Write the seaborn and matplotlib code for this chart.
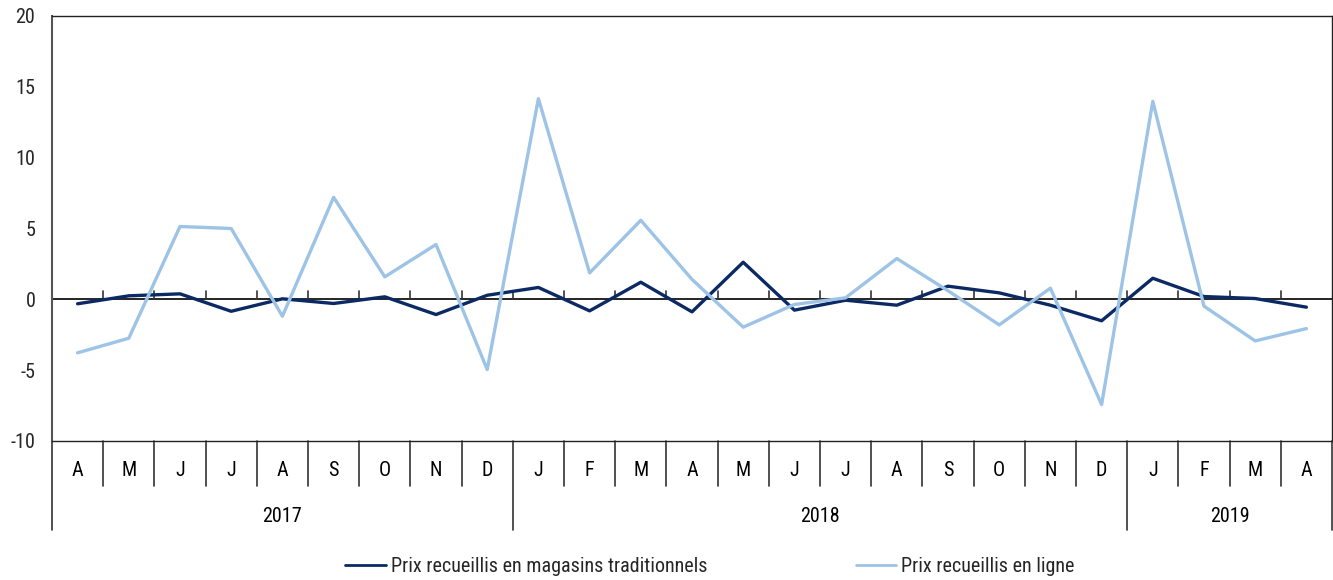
import matplotlib
matplotlib.use("Agg")
import matplotlib.pyplot as plt
import matplotlib.transforms as mtransforms
from matplotlib.lines import Line2D
from matplotlib import font_manager
import seaborn as sns
import pandas as pd
import numpy as np

months = ["A", "M", "J", "J", "A", "S", "O", "N", "D",
          "J", "F", "M", "A", "M", "J", "J", "A", "S", "O", "N", "D",
          "J", "F", "M", "A"]
years = ["2017", "2018", "2019"]
year_counts = [9, 12, 4]

magasins = [-0.32, 0.24, 0.38, -0.85, 0.03, -0.30, 0.17, -1.08, 0.28,
            0.83, -0.82, 1.20, -0.89, 2.61, -0.77, -0.07, -0.42, 0.92, 0.45, -0.42, -1.52,
            1.48, 0.19, 0.05, -0.56]
en_ligne = [-3.78, -2.75, 5.13, 4.99, -1.20, 7.19, 1.58, 3.86, -4.96,
            14.15, 1.86, 5.57, 1.40, -1.97, -0.37, 0.10, 2.87, 0.60, -1.81, 0.78, -7.43,
            13.96, -0.49, -2.94, -2.07]

series_names = ["Prix recueillis en magasins traditionnels", "Prix recueillis en ligne"]
colors = ["#0B2A63", "#9DC3E6"]

n = len(months)
df = pd.DataFrame({
    "idx": list(range(n)) * 2,
    "value": magasins + en_ligne,
    "serie": [series_names[0]] * n + [series_names[1]] * n,
})

sns.set_theme(style="white")

# choose a condensed font if one is available
entries = font_manager.fontManager.ttflist
names = {f.name for f in entries}
family = None
stretch = "normal"
for cand in ["Liberation Sans Narrow", "Roboto Condensed", "Open Sans Condensed",
             "Noto Sans Condensed", "DejaVu Sans Condensed"]:
    if cand in names:
        family = cand
        break
if family is None:
    if any(f.name == "DejaVu Sans" and f.stretch in ("condensed", 300, "semi-condensed") for f in entries):
        family = "DejaVu Sans"
        stretch = "condensed"
    else:
        family = "Roboto"
plt.rcParams['font.family'] = [family, 'DejaVu Sans']
plt.rcParams['font.stretch'] = stretch

fs = 14.5

fig = plt.figure(figsize=(13.33, 5.8), dpi=100)
ax = fig.add_axes([52 / 1333, 1 - 441 / 580, 1280 / 1333, (441 - 15.7) / 580])

sns.lineplot(data=df, x="idx", y="value", hue="serie", palette=colors,
             hue_order=series_names, linewidth=2.4, legend=False, ax=ax,
             sort=False)

ax.set_xlim(-0.5, n - 0.5)
ax.set_ylim(-10, 20)
ax.set_yticks([-10, -5, 0, 5, 10, 15, 20])
ax.set_yticklabels(["-10", "-5", "0", "5", "10", "15", "20"], fontsize=fs)
ax.tick_params(axis="y", length=0, pad=12)
ax.set_xticks([])
ax.set_xlabel("")
ax.set_ylabel("")
for s in ["top", "right", "bottom"]:
    ax.spines[s].set_color("#222222")
    ax.spines[s].set_linewidth(1.0)
ax.spines["left"].set_color("#555555")
ax.spines["left"].set_linewidth(1.5)

# zero line
ax.axhline(0, color="black", linewidth=1.2, zorder=1)

# tick marks along zero line at category boundaries
h_per_unit = ax.get_window_extent().height / 30.0
tick_h = 8 / h_per_unit
for b in range(1, n):
    ax.plot([b - 0.5, b - 0.5], [0, tick_h], color="#333333", linewidth=1.2, zorder=1)

# multi-level category axis below the plot
tr = mtransforms.blended_transform_factory(ax.transData, ax.transAxes)
ax_h_px = 441 - 15.7
def yax(px_below):
    return -px_below / ax_h_px

year_bounds = np.cumsum([0] + year_counts) - 0.5
for b in range(n + 1):
    xb = b - 0.5
    if np.any(np.isclose(year_bounds, xb)):
        bottom = yax(530 - 441)
    else:
        bottom = yax(486 - 441)
    ax.add_line(Line2D([xb, xb], [0, bottom], transform=tr, color="#333333",
                       linewidth=1.2, clip_on=False))

for i, m in enumerate(months):
    ax.text(i, yax(470 - 441), m, transform=tr, ha="center", va="center",
            fontsize=fs, color="black")

start = 0
for yname, cnt in zip(years, year_counts):
    center = start + (cnt - 1) / 2
    ax.text(center, yax(517 - 441), yname, transform=tr, ha="center", va="center",
            fontsize=fs, color="black")
    start += cnt

handles = [Line2D([0], [0], color=c, linewidth=2.0) for c in colors]
fig.legend(handles, series_names, loc="center", bbox_to_anchor=(710 / 1333, 1 - 567 / 580),
           ncol=2, frameon=False, fontsize=fs, handlelength=2.0, handletextpad=0.25,
           columnspacing=7.4)

fig.savefig("out.png", dpi=100)
